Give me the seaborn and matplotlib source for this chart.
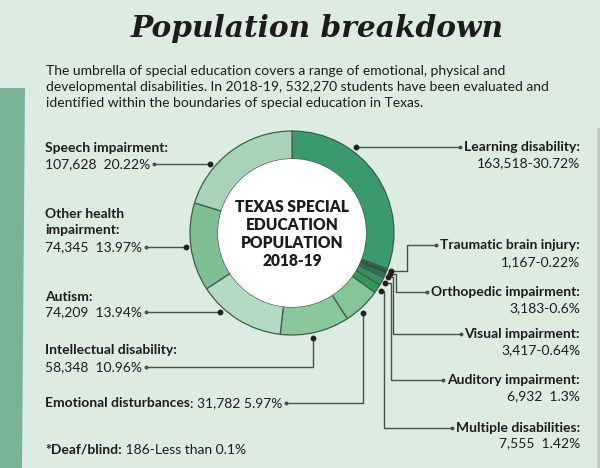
import numpy as np
import matplotlib
matplotlib.use('Agg')
import matplotlib.pyplot as plt
from matplotlib.patches import Polygon, Circle, Rectangle
import seaborn as sns

categories = ['Learning disability', 'Traumatic brain injury', 'Orthopedic impairment',
              'Visual impairment', 'Auditory impairment', 'Multiple disabilities',
              'Emotional disturbances', 'Intellectual disability', 'Autism',
              'Other health impairment', 'Speech impairment']
counts = [163518, 1167, 3183, 3417, 6932, 7555, 31782, 58348, 74209, 74345, 107628]
shares = ['30.72%', '0.22%', '0.6%', '0.64%', '1.3%', '1.42%', '5.97%', '10.96%',
          '13.94%', '13.97%', '20.22%']
separators = ['-', '-', '-', '-', '  ', '  ', ' ', '  ', '  ', '  ', '  ']
slice_colors = ['#3b9a6c', '#0f3d24', '#1f5c3c', '#2b7652', '#3a8c63', '#2f9b5b',
                '#86c49a', '#8ac79c', '#b3dbc2', '#80bf95', '#a9d3b6']
deaf_blind = '186-Less than 0.1%'

title = 'Population breakdown'
subtitle = ['The umbrella of special education covers a range of emotional, physical and',
            'developmental disabilities. In 2018-19, 532,270 students have been evaluated and',
            'identified within the boundaries of special education in Texas.']
center_lines = ['TEXAS SPECIAL', 'EDUCATION', 'POPULATION', '2018-19']

# ---- layout (pixels, y measured from the top) ----
W, H = 600, 468
CX, CY, R, RING = 292, 233, 102, 28
DOT_R = R + 5
BG = '#ddece1'
INK = '#1c1c1c'
LINE = '#44524a'
FS = 10

left_labels = {  # name lines, y of first name line, y of value line
    'Speech impairment': (['Speech impairment:'], 148, 164),
    'Other health impairment': (['Other health', 'impairment:'], 214, 247),
    'Autism': (['Autism:'], 297, 312),
    'Intellectual disability': (['Intellectual disability:'], 350, 367),
}
right_labels = {  # y of name line, y of value line
    'Learning disability': (147, 163),
    'Traumatic brain injury': (245, 262),
    'Orthopedic impairment': (292, 308),
    'Visual impairment': (334, 350),
    'Auditory impairment': (380, 396),
    'Multiple disabilities': (428, 443),
}
small_elbow = {'Traumatic brain injury': 407, 'Orthopedic impairment': 396,
               'Visual impairment': 393, 'Auditory impairment': 391,
               'Multiple disabilities': 384}
bottom_elbow = {'Intellectual disability': 313, 'Emotional disturbances': 363}


def yy(v):
    return H - v


sns.set_theme(style='white')
plt.rcParams['font.family'] = ['Lato', 'DejaVu Sans']

fig = plt.figure(figsize=(6, 4.68), dpi=100)
fig.patch.set_facecolor(BG)
ax = fig.add_axes([0, 0, 1, 1])

ax.pie(counts, colors=slice_colors, startangle=90, counterclock=False, radius=R,
       center=(CX, yy(CY)), wedgeprops=dict(width=RING, edgecolor='#3c5e4b', linewidth=0.9))
ax.add_patch(Circle((CX, yy(CY)), R - RING, facecolor='white', edgecolor='none'))
ax.set_xlim(0, W)
ax.set_ylim(0, H)
ax.set_aspect('equal')
ax.axis('off')

# side decorations
ax.add_patch(Polygon([(0, yy(88)), (25, yy(88)), (22, yy(468)), (0, yy(468))],
                     closed=True, facecolor='#79b397', edgecolor='none'))
ax.add_patch(Rectangle((597, 0), 3, yy(128), facecolor='#b2d5c0', edgecolor='none'))

# title / subtitle
ax.text(317, yy(37), title, ha='center', va='baseline', fontsize=21.3, color=INK,
        family='DejaVu Serif', fontweight='bold', fontstyle='italic')
for i, s in enumerate(subtitle):
    ax.text(46, yy(71 + 16 * i), s, ha='left', va='center', fontsize=FS, color=INK)

for i, s in enumerate(center_lines):
    ax.text(292, yy(207 + 18 * i), s, ha='center', va='center', fontsize=11.2,
            fontweight='heavy', color=INK)

value_text = {c: f'{n:,}{sep}{p}' for c, n, sep, p in zip(categories, counts, separators, shares)}

text_objs = {}
for cat, (lines, y0, vy) in left_labels.items():
    for j, s in enumerate(lines):
        ax.text(45, yy(y0 + 16 * j), s, ha='left', va='center', fontsize=FS,
                fontweight='bold', color=INK)
    text_objs[cat] = ax.text(45, yy(vy), value_text[cat], ha='left', va='center',
                             fontsize=FS, color=INK)

for cat, (ny, vy) in right_labels.items():
    text_objs[cat] = ax.text(580, yy(ny), cat + ':', ha='right', va='center', fontsize=FS,
                             fontweight='bold', color=INK)
    ax.text(580, yy(vy), value_text[cat], ha='right', va='center', fontsize=FS, color=INK)

# one-line labels made of a bold and a regular part
fig.canvas.draw()
renderer = fig.canvas.get_renderer()


def extent(t):
    return t.get_window_extent(renderer).transformed(ax.transData.inverted())


emo = ax.text(45, yy(403), 'Emotional disturbances', ha='left', va='center', fontsize=FS,
              fontweight='bold', color=INK)
fig.canvas.draw()
text_objs['Emotional disturbances'] = ax.text(extent(emo).x1, yy(403),
                                              ': ' + value_text['Emotional disturbances'],
                                              ha='left', va='center', fontsize=FS, color=INK)
db = ax.text(45, yy(450), '*Deaf/blind:', ha='left', va='center', fontsize=FS,
             fontweight='bold', color=INK)
fig.canvas.draw()
ax.text(extent(db).x1, yy(450), ' ' + deaf_blind, ha='left', va='center', fontsize=FS, color=INK)
fig.canvas.draw()

# ---- leader lines ----
frac = np.array(counts) / np.sum(counts)
ends = np.cumsum(frac)
mids = {c: np.deg2rad(90 - 360 * (e - f / 2)) for c, e, f in zip(categories, ends, frac)}


def leader(points):
    xs = [p[0] for p in points]
    ys = [yy(p[1]) for p in points]
    ax.plot(xs, ys, color=LINE, lw=1.0, solid_joinstyle='miter')
    ax.plot(xs[0], ys[0], 'o', color='#222222', ms=3.2)
    ax.plot(xs[-1], ys[-1], 'o', color=LINE, ms=1.8)


for cat in ['Speech impairment', 'Other health impairment', 'Autism']:
    vy = left_labels[cat][2]
    dx = np.sqrt(DOT_R ** 2 - (vy - CY) ** 2)
    leader([(CX - dx, vy), (extent(text_objs[cat]).x1 + 4, vy)])

for cat, ex in bottom_elbow.items():
    vy = left_labels[cat][2] if cat in left_labels else 403
    dy = np.sqrt(DOT_R ** 2 - (ex - CX) ** 2)
    leader([(ex, CY + dy), (ex, vy), (extent(text_objs[cat]).x1 + 4, vy)])

ny = right_labels['Learning disability'][0]
dx = np.sqrt(DOT_R ** 2 - (ny - CY) ** 2)
leader([(CX + dx, ny), (extent(text_objs['Learning disability']).x0 - 4, ny)])

for cat, ex in small_elbow.items():
    a = mids[cat]
    px, py = CX + (R + 4) * np.cos(a), CY - (R + 4) * np.sin(a)
    ny = right_labels[cat][0]
    leader([(px, py), (ex, py), (ex, ny), (extent(text_objs[cat]).x0 - 4, ny)])

fig.savefig('out.png', dpi=100, facecolor=BG)
